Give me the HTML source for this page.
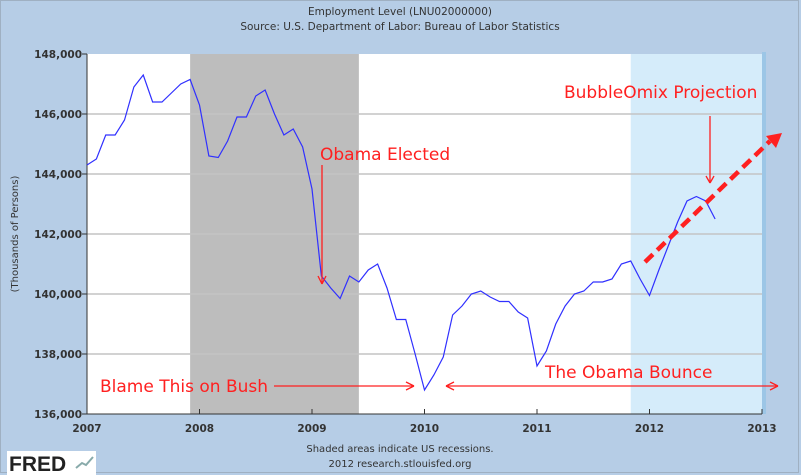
<!DOCTYPE html>
<html><head><meta charset="utf-8"><style>
body{margin:0;width:801px;height:475px;overflow:hidden;background:#b6cde6;font-family:"DejaVu Sans","Liberation Sans",sans-serif}
svg{display:block}
</style></head><body>
<svg width="801" height="475" xmlns="http://www.w3.org/2000/svg">
<rect x="0" y="0" width="801" height="475" fill="#b6cde6"/>
<rect x="0.5" y="0.5" width="798" height="472" fill="none" stroke="#9fb0c2"/>
<text x="400" y="15" font-size="10.5" text-anchor="middle" fill="#333">Employment Level (LNU02000000)</text>
<text x="400" y="30" font-size="10.5" text-anchor="middle" fill="#333">Source: U.S. Department of Labor: Bureau of Labor Statistics</text>
<g id="plot"></g>
<text x="18" y="234" font-size="10" fill="#333" text-anchor="middle" transform="rotate(-90 18 234)">(Thousands of Persons)</text>
<text x="400" y="452" font-size="10" text-anchor="middle" fill="#333">Shaded areas indicate US recessions.</text>
<text x="400" y="467" font-size="10" text-anchor="middle" fill="#333">2012 research.stlouisfed.org</text>
<g>
<rect x="7" y="451" width="89" height="24" fill="#fff"/>
<text x="9" y="471" font-size="21" font-weight="bold" fill="#222" font-family="Liberation Sans,sans-serif">FRED</text>
<polyline points="76,468 82,463 86,465 93,457" fill="none" stroke="#8aa" stroke-width="2"/>
</g>
</svg>
<script>
const years=["2007","2008","2009","2010","2011","2012","2013"];
const yTicks=[136000,138000,140000,142000,144000,146000,148000];
const employment=[
144.3,144.5,145.3,145.3,145.8,146.9,147.3,146.4,146.4,146.7,147.0,147.15,
146.3,144.6,144.55,145.1,145.9,145.9,146.6,146.8,146.0,145.3,145.5,144.9,
143.5,140.6,140.2,139.85,140.6,140.4,140.8,141.0,140.2,139.15,139.15,138.0,
136.8,137.3,137.9,139.3,139.6,140.0,140.1,139.9,139.75,139.75,139.4,139.2,
137.6,138.1,139.0,139.6,140.0,140.1,140.4,140.4,140.5,141.0,141.1,140.5,
139.95,140.8,141.6,142.4,143.1,143.25,143.1,142.5];
const recession=[[2007+11/12,2009+5/12]];
const projectionShade=[2011+10/12,2013];

const X0=87,X1=762,Y0=414,Y1=54;
const x=t=>X0+(t-2007)/6*(X1-X0);
const y=v=>Y0-(v-136000)/12000*(Y0-Y1);
const NS="http://www.w3.org/2000/svg";
const g=document.getElementById('plot');
function mk(tag,at,parent){const e=document.createElementNS(NS,tag);for(const k in at)e.setAttribute(k,at[k]);(parent||g).appendChild(e);return e;}
let e;
e=mk('rect',{x:X0,y:Y1,width:X1-X0,height:Y0-Y1,fill:'#fff'});


recession.forEach(r=>{e=mk('rect',{x:x(r[0]),y:Y1,width:x(r[1])-x(r[0]),height:Y0-Y1,fill:'#bdbdbd'});

});
e=mk('rect',{x:x(projectionShade[0]),y:Y1,width:x(projectionShade[1])-x(projectionShade[0]),height:Y0-Y1,fill:'#d5ecfa'});


e=mk('rect',{x:X1,y:Y1-2,width:4,height:Y0-Y1+2,fill:'#9cc6e6'});


yTicks.forEach(v=>{
 if(v>136000&&v<148000){e=mk('line',{x1:X0,x2:X1,y1:y(v),y2:y(v),stroke:'#c4c4c4','stroke-width':1.5});
 
 }
 e=mk('line',{x1:X0-5,x2:X0,y1:y(v),y2:y(v),stroke:'#333'});
 
 
 e=mk('text',{x:X0-5,y:y(v)+4,'font-size':10.5,'font-weight':'bold','text-anchor':'end',fill:'#333'});
 e.textContent=v.toLocaleString('en-US');
 
 
});
years.forEach((yr,i)=>{
 const xx=x(2007+i);
 e=mk('line',{x1:xx,x2:xx,y1:Y0,y2:Y0-5,stroke:'#333'});
 
 
 e=mk('text',{x:xx,y:Y0+18,'font-size':10.5,'font-weight':'bold','text-anchor':'middle',fill:'#333'});
 e.textContent=yr;
 
 
});
e=mk('polyline',{points:`${X0},${Y1} ${X0},${Y0} ${X1},${Y0}`,fill:'none',stroke:'#333'});


e=mk('polyline',{points:employment.map((v,i)=>x(2007+i/12)+','+y(v*1000)).join(' '),fill:'none',stroke:'#3030ff','stroke-width':1.2});


// annotations
const red='#ff2020';
function txt(s,xx,yy,name){const t=mk('text',{x:xx,y:yy,'font-size':17,fill:red,'font-family':'DejaVu Sans,sans-serif'});t.textContent=s;
 
 }
function ln(a,b,c,d,name,w){const l=mk('line',{x1:a,y1:b,x2:c,y2:d,stroke:red,'stroke-width':w||1.3});
 
 }
txt('Obama Elected',320,160,'obama-elected-label');
ln(322,165,322,284,'obama-elected-arrow');ln(318,276,322,284,'arrow-head');ln(326,276,322,284,'arrow-head');
txt('BubbleOmix Projection',564,98,'projection-label');
ln(710,116,710,183,'projection-arrow');ln(706,176,710,183,'arrow-head');ln(714,176,710,183,'arrow-head');
txt('Blame This on Bush',100,392,'blame-bush-label');
ln(274,386,414,386,'blame-bush-arrow');ln(406,382,414,386,'arrow-head');ln(406,390,414,386,'arrow-head');
txt('The Obama Bounce',545,378,'obama-bounce-label');
ln(446,386,778,386,'obama-bounce-arrow');ln(454,382,446,386,'arrow-head');ln(454,390,446,386,'arrow-head');ln(770,382,778,386,'arrow-head');ln(770,390,778,386,'arrow-head');
e=mk('line',{x1:645,y1:262,x2:770,y2:141,stroke:red,'stroke-width':4.5,'stroke-dasharray':'11,6'});


e=mk('polygon',{points:'782,133 766,136 776,148',fill:red});


</script>
</body></html>
